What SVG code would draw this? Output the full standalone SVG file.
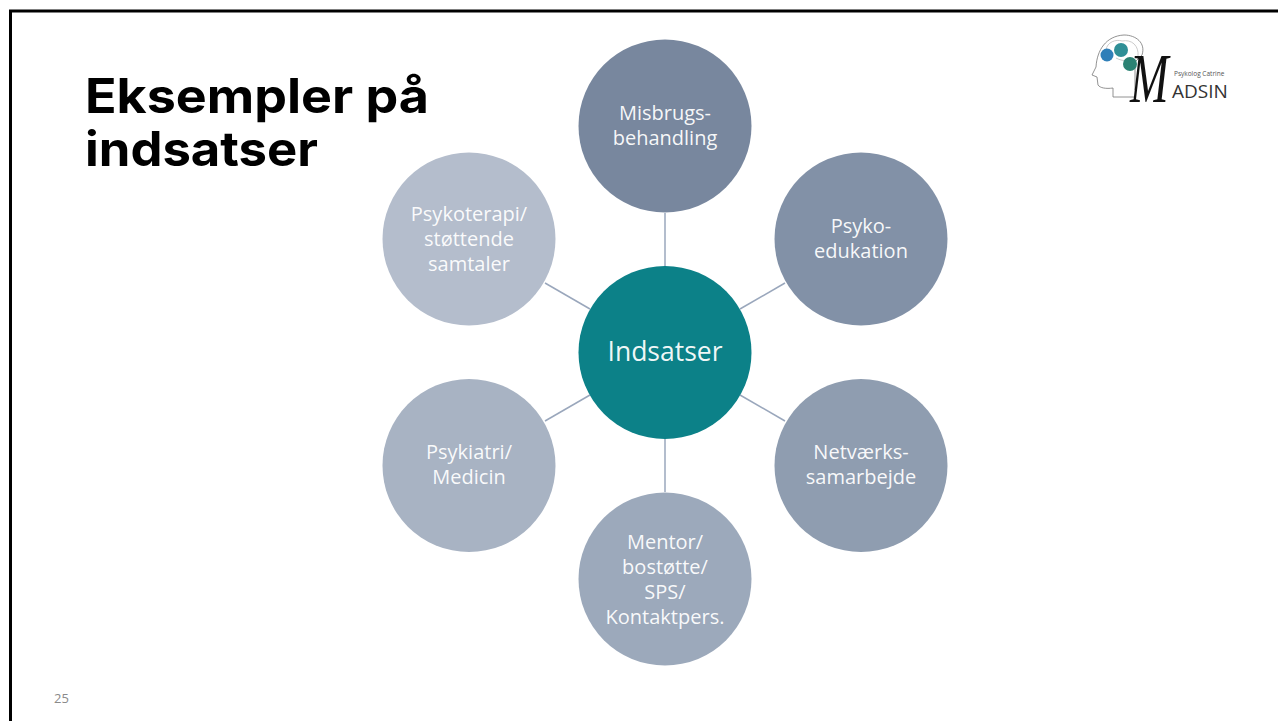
<svg xmlns="http://www.w3.org/2000/svg" width="1278" height="721" viewBox="0 0 1278 721">
<style>
.t{font-family:"Open Sans","Liberation Sans",sans-serif;font-weight:400;fill:#fff;fill-opacity:.94;font-size:20px;text-anchor:middle}
.h{font-family:Inter,"Liberation Sans",sans-serif;font-weight:700;font-size:48px;fill:#000}
.c{stroke:#9aa7bc;stroke-width:1.500;fill:none}
</style>
<rect width="1278" height="721" fill="#fff"/>
<path d="M10.500 721V11H1278" fill="none" stroke="#000" stroke-width="3"/>
<g id="title"><text class="h" x="85" y="113" textLength="344" lengthAdjust="spacingAndGlyphs">Eksempler på</text><text class="h" x="85" y="166" textLength="233" lengthAdjust="spacingAndGlyphs">indsatser</text></g>
<g id="connectors">
<line class="c" x1="665" y1="213" x2="665" y2="266"/>
<line class="c" x1="785" y1="283" x2="740" y2="309"/>
<line class="c" x1="785" y1="421" x2="740" y2="395"/>
<line class="c" x1="665" y1="492" x2="665" y2="439"/>
<line class="c" x1="545" y1="421" x2="590" y2="395"/>
<line class="c" x1="545" y1="283" x2="590" y2="309"/>
</g>
<g id="node-center"><circle cx="665" cy="352.500" r="86.500" fill="#0c8188"/><text class="t" x="665" y="361" style="font-size:26.500px">Indsatser</text></g>
<g id="node-misbrug"><circle cx="665" cy="126" r="86.500" fill="#78879e"/><text class="t" x="665" y="120">Misbrugs-</text><text class="t" x="665" y="145">behandling</text></g>
<g id="node-psyko"><circle cx="861" cy="239" r="86.500" fill="#8291a7"/><text class="t" x="861" y="233">Psyko-</text><text class="t" x="861" y="258">edukation</text></g>
<g id="node-netvaerk"><circle cx="861" cy="465.500" r="86.500" fill="#8f9db0"/><text class="t" x="861" y="459">Netværks-</text><text class="t" x="861" y="484">samarbejde</text></g>
<g id="node-mentor"><circle cx="665" cy="579" r="86.500" fill="#9ca9bb"/><text class="t" x="665" y="549">Mentor/</text><text class="t" x="665" y="574">bostøtte/</text><text class="t" x="665" y="599">SPS/</text><text class="t" x="665" y="624">Kontaktpers.</text></g>
<g id="node-psykiatri"><circle cx="469" cy="465.500" r="86.500" fill="#a8b3c3"/><text class="t" x="469" y="459">Psykiatri/</text><text class="t" x="469" y="484">Medicin</text></g>
<g id="node-psykoterapi"><circle cx="469" cy="239" r="86.500" fill="#b4bdcc"/><text class="t" x="469" y="221">Psykoterapi/</text><text class="t" x="469" y="246">støttende</text><text class="t" x="469" y="271">samtaler</text></g>
<g id="logo">
<path d="M1113 97V88C1106 89 1100 88 1098 85L1097 77L1092 75L1096 67C1097 50 1106 36 1124 35C1136 35 1146 43 1142 55L1135 62V90" fill="none" stroke="#777" stroke-width="0.800"/>
<path d="M1113 97H1135" fill="none" stroke="#777" stroke-width="0.800"/>
<path d="M1106 50C1107 42 1116 39 1122 41C1132 39 1139 46 1138 56C1135 62 1123 62 1116 58" fill="none" stroke="#ccc" stroke-width="1"/>
<circle cx="1107" cy="55" r="6.500" fill="#2f7fb8"/>
<circle cx="1121" cy="50" r="7" fill="#2f8f96"/>
<circle cx="1130" cy="64" r="7" fill="#2b8273"/>
<text font-family="Liberation Serif,serif" font-style="italic" font-size="70" fill="#111" transform="translate(1130 102) scale(.66 1)">M</text>
<text x="1174" y="76" font-family="Open Sans,sans-serif" font-size="6.500" fill="#555">Psykolog Catrine</text>
<text x="1172" y="98" font-family="Open Sans,sans-serif" font-size="19" fill="#333">ADSIN</text>
</g>
<text x="54" y="703" font-family="Open Sans,sans-serif" font-size="13" fill="#8a8a8a">25</text>
</svg>
